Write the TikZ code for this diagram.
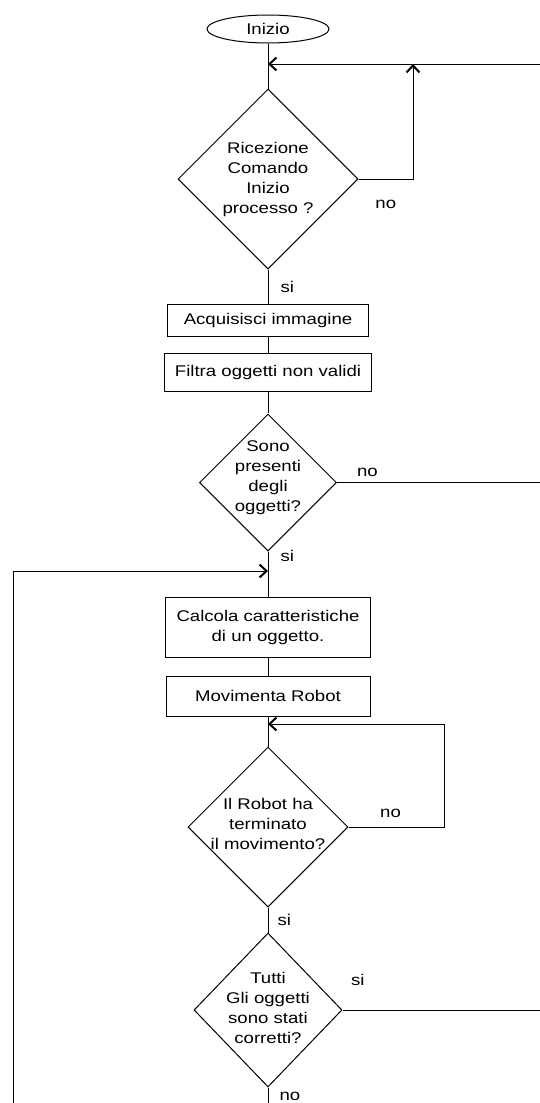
\documentclass[tikz,border=0pt]{standalone}
\usepackage{fontspec}
\setmainfont[FakeStretch=1.2]{Liberation Sans}
\usetikzlibrary{arrows.meta,positioning,shapes.geometric}

\begin{document}
\begin{tikzpicture}[
  x=1pt, y=-1pt,
  node distance=20pt,
  every node/.style={font=\fontsize{15.5}{20}\selectfont},
  startstop/.style={draw, ellipse, line width=1pt, inner sep=0pt,
                    minimum width=122pt, minimum height=28pt},
  process/.style={draw, rectangle, line width=1pt, inner sep=0pt, align=center},
  decision/.style={draw, diamond, line width=1pt, inner sep=0pt},
  qtext/.style={align=center, inner sep=0pt},
  line/.style={line width=1pt},
  arr/.style={-{Straight Barb[length=7pt, width=13pt, line width=2pt]}, line width=1pt},
  lbl/.style={inner sep=1pt},
]
\useasboundingbox (0,0) rectangle (540,1103);

%% Main column
\node[startstop] (start) at (268,29) {Inizio};
\node[decision, minimum width=180pt, minimum height=180pt, below=45pt of start,
      label={[qtext]center:Ricezione\\Comando\\Inizio\\processo ?}] (ask) {};
\node[process, minimum width=201pt, minimum height=32pt, below=34pt of ask]  (acq)  {Acquisisci immagine};
\node[process, minimum width=207pt, minimum height=38pt, below=16pt of acq]  (filt) {Filtra oggetti non validi};
\node[decision, minimum width=137pt, minimum height=137pt, below=22pt of filt,
      label={[qtext, yshift=5pt]center:Sono\\presenti\\degli\\oggetti?}] (objs) {};
\node[process, minimum width=205pt, minimum height=60pt, below=45pt of objs] (calc) {Calcola caratteristiche\\di un oggetto.};
\node[process, minimum width=204pt, minimum height=40pt, below=18pt of calc] (move) {Movimenta Robot};
\node[decision, minimum width=160pt, minimum height=160pt, below=30pt of move,
      label={[qtext, yshift=3pt]center:Il Robot ha\\terminato\\il movimento?}] (moved) {};
\node[decision, minimum width=148pt, minimum height=154pt, below=25pt of moved,
      label={[qtext, yshift=2pt]center:Tutti\\Gli oggetti\\sono stati\\corretti?}] (allok) {};

%% Junctions and free ends
\coordinate (top)   at (268,64);
\coordinate (topR)  at (540,64);
\coordinate (turn1) at (413,64);
\coordinate (back)  at (268,571);
\coordinate (lft)   at (13,1103);
\coordinate (wait)  at (268,724);
\coordinate (waitR) at (444,724);
\coordinate (outR2) at (objs.east -| topR);
\coordinate (outR4) at (allok.east -| topR);
\coordinate (outB)  at (allok.south |- lft);

%% Straight connectors
\draw[line] (start) -- (ask);
\draw[line] (ask) -- node[lbl, right=11pt] {si} (acq);
\draw[line] (acq) -- (filt);
\draw[line] (filt) -- (objs);
\draw[line] (objs) -- node[lbl, pos=0.11, right=11pt] {si} (calc);
\draw[line] (calc) -- (move);
\draw[line] (move) -- (moved);
\draw[line] (moved) -- node[lbl, right=8pt] {si} (allok);

%% Loops and exits
\draw[arr] (topR) -- (top);
\draw[arr] (ask.east) -| node[lbl, pos=0.25, below=20pt] {no} (turn1);
\draw[line] (objs.east) -- node[lbl, pos=0.15, above=4pt] {no} (outR2);
\draw[arr] (lft) |- (back);
\draw[arr] (moved.east) -| node[lbl, pos=0.22, above=8pt] {no} (waitR) -- (wait);
\draw[line] (allok.east) -- node[lbl, pos=0, above right=23pt and 7pt] {si} (outR4);
\draw[line] (allok.south) -- node[lbl, pos=0.55, right=10pt] {no} (outB);

\end{tikzpicture}
\end{document}
